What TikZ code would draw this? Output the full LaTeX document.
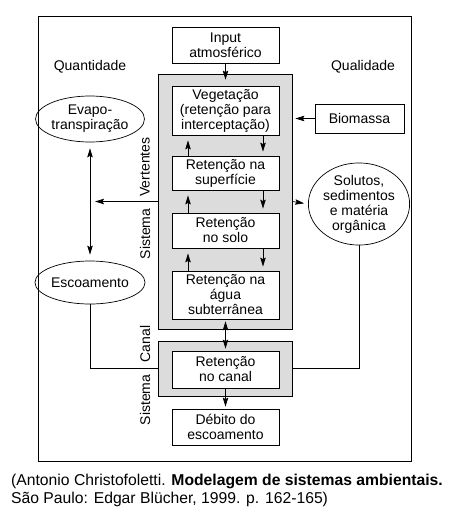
\documentclass[tikz,border=0pt]{standalone}
\usepackage{fontspec}
\setmainfont{Liberation Sans}
\usetikzlibrary{shapes.geometric,arrows.meta,calc}
\definecolor{graybox}{HTML}{DCDCDC}
\begin{document}
\begin{tikzpicture}[x=1pt,y=-1pt,
  every node/.style={font=\fontsize{14}{15}\selectfont, inner sep=0pt, align=center},
  box/.style={draw, line width=0.8pt, fill=white, minimum width=107pt},
  gbox/.style={draw, line width=0.8pt, fill=graybox, minimum width=134pt},
  oval/.style={draw, ellipse, line width=0.7pt, minimum width=90pt},
  tip/.style={Stealth[length=9pt,width=5.5pt,inset=1.5pt]},
  arr/.style={line width=0.7pt, -{Stealth[length=9pt,width=5.5pt,inset=1.5pt]}},
  darr/.style={line width=0.7pt, {Stealth[length=9pt,width=5.5pt,inset=1.5pt]}-{Stealth[length=9pt,width=5.5pt,inset=1.5pt]}},
  ln/.style={line width=0.7pt},
  caption/.style={anchor=west, font=\fontsize{15.7}{18}\selectfont}]
\useasboundingbox (0,0) rectangle (449,520);
\node[draw, line width=0.8pt, minimum width=373pt, minimum height=445pt] (frame) at (224.5,238.5) {};
\node[box, minimum height=36pt] (input) at (225.5,45) {Input\\atmosférico};
\node[gbox, minimum height=255pt] (vert) at (225,201.5) {};
\node[box, minimum height=49pt] (veg) at (225.5,110.5) {Vegetação\\(retenção para\\interceptação)};
\node[box, minimum height=34pt] (sup) at (225.5,173) {Retenção na\\superfície};
\node[box, minimum height=35pt] (solo) at (225.5,230.5) {Retenção\\no solo};
\node[box, minimum height=48pt] (agua) at (225.5,295) {Retenção na\\água\\subterrânea};
\node[gbox, minimum height=55pt] (canalg) at (225,368.5) {};
\node[box, minimum height=37pt] (canal) at (225.5,369.5) {Retenção\\no canal};
\node[box, minimum height=36pt] (debito) at (225.5,427) {Débito do\\escoamento};
\node[box, minimum width=89pt, minimum height=29pt] (bio) at (359.5,118.5) {Biomassa};
\node[oval, minimum height=74pt] (solutos) at (359,204) {Solutos,\\sedimentos\\e matéria\\orgânica};
\node[oval, minimum height=46pt] (evapo) at (90,119) {Evapo-\\transpiração};
\node[oval, minimum height=43pt] (esco) at (90,282.5) {Escoamento};
\node (quant) at (90,67) {Quantidade};
\node (qual) at (363,67) {Qualidade};
\node[rotate=90] (vlab1) at (145,167) {Vertentes};
\node[rotate=90] (vlab2) at (145,234) {Sistema};
\node[rotate=90] (clab1) at (145,344) {Canal};
\node[rotate=90] (clab2) at (145,400) {Sistema};
\node[caption] (cap1) at (11,481) {(Antonio Christofoletti. \textbf{Modelagem de sistemas ambientais.}};
\node[caption] (cap2) at (11,499) {São Paulo: Edgar Blücher, 1999. p. 162-165)};
% arrows
\draw[arr, shorten >=6pt] (input) -- (veg);
\draw[arr, shorten >=5pt] ([xshift=-37.5pt]sup.north) -- ([xshift=-37.5pt]veg.south);
\draw[arr, shorten >=4pt] ([xshift=37.5pt]veg.south) -- ([xshift=37.5pt]sup.north);
\draw[arr, shorten >=5pt] ([xshift=-37.5pt]solo.north) -- ([xshift=-37.5pt]sup.south);
\draw[arr, shorten >=4pt] ([xshift=37.5pt]sup.south) -- ([xshift=37.5pt]solo.north);
\draw[arr, shorten >=5pt] ([xshift=-37.5pt]agua.north) -- ([xshift=-37.5pt]solo.south);
\draw[arr, shorten >=4pt] ([xshift=37.5pt]solo.south) -- ([xshift=37.5pt]agua.north);
\draw[darr, shorten >=2pt, shorten <=2pt] (agua) -- (canal);
\draw[arr, shorten >=2pt] (canal) -- (debito);
\draw[arr, shorten >=3pt] (bio.west) -- (bio.west -| vert.east);
\draw[arr, shorten >=5pt] (vert.west) -- (vert.west -| esco.center);
\draw[arr, shorten >=4pt] (vert.east) -- (solutos.west);
\draw[darr, shorten >=6pt, shorten <=6pt] (evapo) -- (esco);
\draw[ln] (esco.south) |- (canalg.west);
\draw[ln] (solutos.south) |- (canalg.east);
\end{tikzpicture}
\end{document}
